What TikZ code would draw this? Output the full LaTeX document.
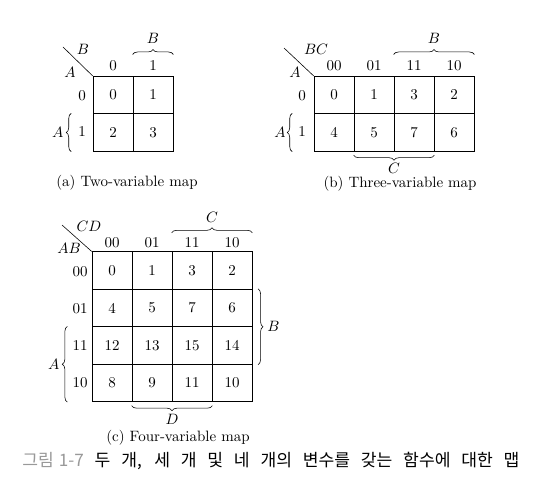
\RequirePackage{fix-cm}
\documentclass[tikz,border=0pt]{standalone}
\usepackage{fontspec}
\newfontfamily\krfont{Noto Sans CJK KR}
\usetikzlibrary{decorations.pathreplacing}

\tikzset{
  cell/.style={draw, line width=0.5pt, minimum width=28pt, minimum height=26.25pt, inner sep=0pt},
  brc/.style={decorate, decoration={brace, amplitude=3.5pt}},
}

\begin{document}
\begin{tikzpicture}[x=0.7pt, y=-0.7pt, font=\fontsize{10.5}{12.5}\selectfont]
        \useasboundingbox (0,0) rectangle (547,500);

        % (a) Two-variable map: cells
        \node[cell] (a0) at (113,95) {0};
        \node[cell] (a1) at (153,95) {1};
        \node[cell] (a2) at (113,132.5) {2};
        \node[cell] (a3) at (153,132.5) {3};

        % Corner line and variable names
        \coordinate (atick) at (63,47);
        \draw (atick) -- (a0.north west);
        \node (aB) at (83,49) {$B$};
        \node (aA) at (70,72) {$A$};

        % Column and row values
        \node (ac0) at (113,66) {0};
        \node (ac1) at (153,66) {1};
        \node (ar0) at (82,96) {0};
        \node (ar1) at (82,132) {1};

        % Braces
        \draw[brc] ([yshift=15pt]a1.north west) -- ([yshift=15pt]a1.north east)
            node[midway, above=4pt] (aBbrc) {$B$};
        \draw[brc] ([xshift=-15pt]a2.south west) -- ([xshift=-15pt]a2.north west)
            node[midway, left=2pt] (aAbrc) {$A$};

        \node (acap) at (127,183) {(a) Two-variable map};

        % (b) Three-variable map: cells
        \node[cell] (b0) at (334,95) {0};
        \node[cell] (b1) at (374,95) {1};
        \node[cell] (b3) at (414,95) {3};
        \node[cell] (b2) at (454,95) {2};
        \node[cell] (b4) at (334,132.5) {4};
        \node[cell] (b5) at (374,132.5) {5};
        \node[cell] (b7) at (414,132.5) {7};
        \node[cell] (b6) at (454,132.5) {6};

        % Corner line and variable names
        \coordinate (btick) at (284,48);
        \draw (btick) -- (b0.north west);
        \node (bBC) at (316,49) {$BC$};
        \node (bA) at (295,72) {$A$};

        % Column and row values
        \node (bc0) at (334,66) {00};
        \node (bc1) at (374,66) {01};
        \node (bc3) at (414,66) {11};
        \node (bc2) at (454,66) {10};
        \node (br0) at (302,96) {0};
        \node (br1) at (302,132) {1};

        % Braces
        \draw[brc] ([yshift=15pt]b3.north west) -- ([yshift=15pt]b2.north east)
            node[midway, above=4pt] (bBbrc) {$B$};
        \draw[brc] ([xshift=-15pt]b4.south west) -- ([xshift=-15pt]b4.north west)
            node[midway, left=1pt] (bAbrc) {$A$};
        \draw[brc] ([yshift=-2.5pt]b7.south east) -- ([yshift=-2.5pt]b5.south west)
            node[midway, below=4.5pt, inner sep=1pt] (bCbrc) {$C$};

        \node (bcap) at (400,184) {(b) Three-variable map};

        % (c) Four-variable map: cells
        \node[cell] (c0) at (112,270.5) {0};
        \node[cell] (c1) at (152,270.5) {1};
        \node[cell] (c3) at (192,270.5) {3};
        \node[cell] (c2) at (232,270.5) {2};
        \node[cell] (c4) at (112,308) {4};
        \node[cell] (c5) at (152,308) {5};
        \node[cell] (c7) at (192,308) {7};
        \node[cell] (c6) at (232,308) {6};
        \node[cell] (c12) at (112,345.5) {12};
        \node[cell] (c13) at (152,345.5) {13};
        \node[cell] (c15) at (192,345.5) {15};
        \node[cell] (c14) at (232,345.5) {14};
        \node[cell] (c8) at (112,383) {8};
        \node[cell] (c9) at (152,383) {9};
        \node[cell] (c11) at (192,383) {11};
        \node[cell] (c10) at (232,383) {10};

        % Corner line and variable names
        \coordinate (ctick) at (62,225);
        \draw (ctick) -- (c0.north west);
        \node (cCD) at (89,226) {$CD$};
        \node (cAB) at (69,248) {$AB$};

        % Column and row values
        \node (cc0) at (112,243) {00};
        \node (cc1) at (152,243) {01};
        \node (cc3) at (192,243) {11};
        \node (cc2) at (232,243) {10};
        \node (cr0) at (80,272) {00};
        \node (cr1) at (80,309) {01};
        \node (cr3) at (80,346) {11};
        \node (cr2) at (80,383) {10};

        % Braces
        \draw[brc] ([yshift=13pt]c3.north west) -- ([yshift=13pt]c2.north east)
            node[midway, above=4pt] (cCbrc) {$C$};
        \draw[brc] ([xshift=4pt]c6.north east) -- ([xshift=4pt]c14.south east)
            node[midway, right=3pt] (cBbrc) {$B$};
        \draw[brc] ([xshift=-17pt]c8.south west) -- ([xshift=-17pt]c12.north west)
            node[midway, left=2pt] (cAbrc) {$A$};
        \draw[brc] ([yshift=-2.5pt]c11.south east) -- ([yshift=-2.5pt]c9.south west)
            node[midway, below=4.5pt, inner sep=1pt] (cDbrc) {$D$};

        \node (ccap) at (178,438) {(c) Four-variable map};

        % Figure caption
        \node[anchor=west, inner sep=0pt, font=\fontsize{12}{14}\krfont] (fig) at (22,461)
            {\makebox[348pt][s]{\textcolor{black!40}{그림\hspace{0.3em}1-7} 두 개, 세 개 및 네 개의 변수를 갖는 함수에 대한 맵}};

    \end{tikzpicture}
\end{document}
